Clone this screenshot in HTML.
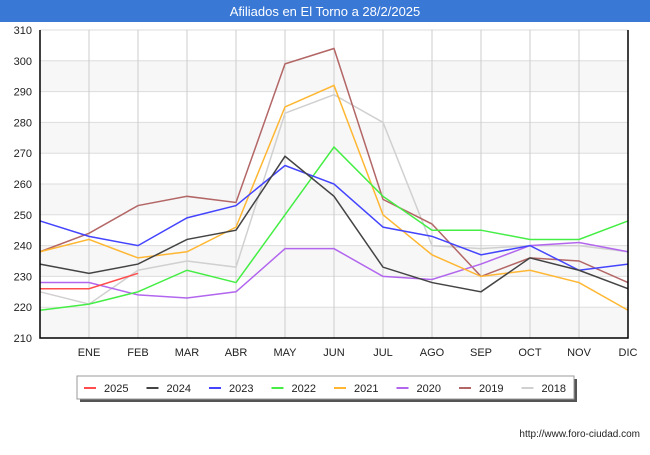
<!DOCTYPE html>
<html><head><meta charset="utf-8"><style>
body{margin:0;width:650px;height:450px;background:#fff;font-family:"Liberation Sans",sans-serif;overflow:hidden}
</style></head><body>
<svg width="650" height="450" id="c" xmlns="http://www.w3.org/2000/svg">
<rect x="0" y="0" width="650" height="22" fill="#3a78d6"/>
<text x="325" y="16" fill="#fff" font-size="13" text-anchor="middle">Afiliados en El Torno a 28/2/2025</text>
<g id="grid"></g><g id="series"></g><g id="axes"></g>
<rect x="80" y="379" width="497" height="23" fill="#555"/>
<rect x="77" y="376" width="497" height="23" fill="#fff" stroke="#999"/>
<g id="legend"></g>
<text x="640" y="437" font-size="10" text-anchor="end" fill="#222">http://www.foro-ciudad.com</text>
</svg>
<script>
const categories=["","ENE","FEB","MAR","ABR","MAY","JUN","JUL","AGO","SEP","OCT","NOV","DIC"];
const yTicks=[210,220,230,240,250,260,270,280,290,300,310];
const seriesNames=["2025","2024","2023","2022","2021","2020","2019","2018"];
const seriesColors=["#ff4d4d","#444444","#4444ff","#44ee44","#ffb733","#b266ee","#b36666","#d0d0d0"];
const s2025=[226,226,231];
const s2024=[234,231,234,242,245,269,256,233,228,225,236,232,226];
const s2023=[248,243,240,249,253,266,260,246,243,237,240,232,234];
const s2022=[219,221,225,232,228,250,272,256,245,245,242,242,248];
const s2021=[238,242,236,238,246,285,292,250,237,230,232,228,219];
const s2020=[228,228,224,223,225,239,239,230,229,234,240,241,238];
const s2019=[238,244,253,256,254,299,304,255,247,230,236,235,228];
const s2018=[225,221,232,235,233,283,289,280,240,239,240,240,238];
const seriesData=[s2025,s2024,s2023,s2022,s2021,s2020,s2019,s2018];
const X0=40,X1=628,Y0=338,Y1=30,YMIN=210,YMAX=310;
const xs=i=>X0+i*(X1-X0)/(categories.length-1);
const ys=v=>Y0-(v-YMIN)*(Y0-Y1)/(YMAX-YMIN);
const NS="http://www.w3.org/2000/svg";
function mk(t,a,p){const e=document.createElementNS(NS,t);for(const k in a)e.setAttribute(k,a[k]);p.appendChild(e);return e;}
const grid=document.getElementById('grid'),ser=document.getElementById('series'),ax=document.getElementById('axes'),leg=document.getElementById('legend');
for(let i=0;i<yTicks.length-1;i++){if(i%2==0){const b=mk('rect',{x:X0,y:ys(yTicks[i+1]),width:X1-X0,height:ys(yTicks[i])-ys(yTicks[i+1]),fill:'#f7f7f7'},grid);

}}
yTicks.forEach(v=>{const l=mk('line',{x1:X0,x2:X1,y1:ys(v),y2:ys(v),stroke:'#ddd'},grid);


const t=mk('text',{x:X0-8,y:ys(v)+4,'font-size':11,'text-anchor':'end',fill:'#222'},ax);t.textContent=v;

});
categories.forEach((c,i)=>{if(i==0)return;const l=mk('line',{x1:xs(i),x2:xs(i),y1:Y1,y2:Y0,stroke:'#ccc'},grid);


const t=mk('text',{x:xs(i),y:Y0+18,'font-size':11,'text-anchor':'middle',fill:'#222'},ax);t.textContent=c;

});
const a=mk('path',{d:`M${X0} ${Y1}V${Y0}H${X1}V${Y1}`,fill:'none',stroke:'#000','stroke-width':1.5},ax);


for(let k=seriesData.length-1;k>=0;k--){const d=seriesData[k].map((v,i)=>(i?'L':'M')+xs(i)+' '+ys(v)).join('');
const p=mk('path',{d:d,fill:'none',stroke:seriesColors[k],'stroke-width':1.5},ser);

}
seriesNames.forEach((n,k)=>{const x=84+k*62.5;
const l=mk('line',{x1:x,x2:x+12,y1:388,y2:388,stroke:seriesColors[k],'stroke-width':2},leg);


const t=mk('text',{x:x+20,y:392,'font-size':11,fill:'#222'},leg);t.textContent=n;

});
</script>
</body></html>
